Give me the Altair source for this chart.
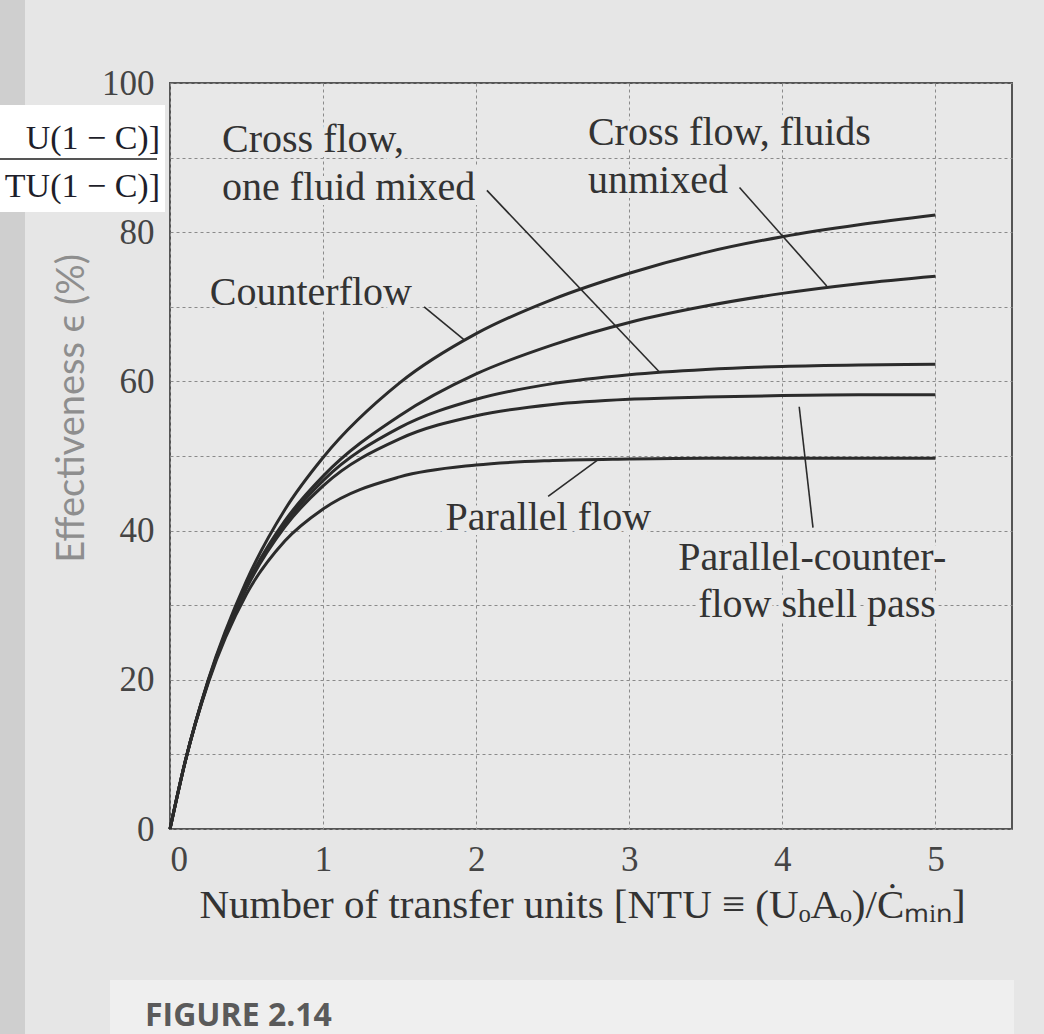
import altair as alt
import pandas as pd

# ---- data (NTU vs effectiveness %) ----
ntu = [0, 0.1, 0.25, 0.5, 0.75, 1.0, 1.5, 2.0, 2.5, 3.0, 3.5, 4.0, 4.5, 5.0]
counterflow   = [0, 9.1, 20.0, 33.3, 42.8, 49.8, 59.8, 66.4, 71.0, 74.5, 77.3, 79.4, 81.0, 82.3]
cross_unmixed = [0, 9.1, 19.9, 32.7, 41.3, 47.3, 55.4, 61.0, 64.9, 67.9, 70.1, 71.8, 73.1, 74.1]
cross_mixed   = [0, 9.1, 19.8, 32.5, 40.9, 46.7, 53.8, 57.6, 59.7, 60.9, 61.6, 62.0, 62.2, 62.3]
shell_pass    = [0, 9.1, 19.8, 32.3, 40.5, 46.0, 52.3, 55.4, 56.9, 57.6, 57.9, 58.1, 58.2, 58.2]
parallel      = [0, 9.1, 19.6, 31.5, 38.6, 42.9, 47.2, 48.8, 49.4, 49.6, 49.7, 49.7, 49.7, 49.7]

series = {
    "Counterflow": counterflow,
    "Cross flow, fluids unmixed": cross_unmixed,
    "Cross flow, one fluid mixed": cross_mixed,
    "Parallel-counterflow shell pass": shell_pass,
    "Parallel flow": parallel,
}

# annotation text (label lines, anchor in data coords)
label_text = ["Cross flow,", "one fluid mixed", "Cross flow, fluids", "unmixed",
              "Counterflow", "Parallel flow", "Parallel-counter-", "flow shell pass"]
label_x = [0.34, 0.34, 2.73, 2.73, 0.26, 1.80, 3.32, 3.45]
label_y = [90.8, 84.3, 91.7, 85.3, 70.2, 40.1, 34.7, 28.4]

# leader lines from labels to curves
lead_x = [2.07, 3.72, 1.66, 2.47, 4.20]
lead_y = [85.6, 86.0, 70.0, 44.6, 40.4]
lead_x2 = [3.20, 4.29, 1.92, 2.79, 4.11]
lead_y2 = [61.2, 72.8, 65.6, 49.4, 56.6]

x_grid = [0, 0.5, 1, 1.5, 2, 2.5, 3, 3.5, 4, 4.5, 5, 5.5]
y_grid = [0, 10, 20, 30, 40, 50, 60, 70, 80, 90, 100]

rows = []
for name, vals in series.items():
    for n, v in zip(ntu, vals):
        rows.append({"curve": name, "ntu": n, "eff": v})
df = pd.DataFrame(rows)

W, H = 842, 746
SERIF = "Liberation Serif"
INK = "#2b2b2b"
PAPER = "#e8e8e8"

xscale = alt.Scale(domain=[0, 5.5], nice=False, zero=False)
yscale = alt.Scale(domain=[0, 100], nice=False)

x_axis = alt.Axis(values=x_grid, grid=True, ticks=False, domain=False, format="d",
                  labelExpr="(datum.value % 1 == 0 && datum.value <= 5) ? datum.label : ''",
                  labelFont=SERIF, labelFontSize=35, labelColor="#444", labelPadding=13,
                  title="Number of transfer units [NTU ≡ (UₒAₒ)/Ċₘᵢₙ]",
                  titleFont=SERIF, titleFontSize=41, titleFontWeight="normal", titleColor="#333",
                  titleX=412, titleY=88, titleBaseline="alphabetic", titleAnchor="middle")
y_axis = alt.Axis(values=y_grid, grid=True, ticks=False, domain=False,
                  labelExpr="datum.value % 20 == 0 ? datum.label : ''",
                  labelFont=SERIF, labelFontSize=35, labelColor="#444", labelPadding=16,
                  title="Effectiveness ϵ (%)", titleFont="Lato", titleFontSize=38,
                  titleFontWeight="normal", titleColor="#8e8e8e",
                  titleX=-98, titleY=325, titleAngle=270, titleBaseline="middle", titleAnchor="middle")

curves = alt.Chart(df).mark_line(color=INK, strokeWidth=3, interpolate="monotone").encode(
    x=alt.X("ntu:Q", scale=xscale, axis=x_axis),
    y=alt.Y("eff:Q", scale=yscale, axis=y_axis),
    detail="curve:N",
)

lead_df = pd.DataFrame({"x": lead_x, "y": lead_y, "x2": lead_x2, "y2": lead_y2})
leaders = alt.Chart(lead_df).mark_rule(color=INK, strokeWidth=1.6).encode(
    x=alt.X("x:Q", scale=xscale), y=alt.Y("y:Q", scale=yscale),
    x2="x2:Q", y2="y2:Q",
)

lab_df = pd.DataFrame({"t": label_text, "x": label_x, "y": label_y})
label_halo = alt.Chart(lab_df).mark_text(align="left", baseline="alphabetic", font=SERIF,
                                         fontSize=40, color=PAPER, stroke=PAPER,
                                         strokeWidth=10).encode(
    x=alt.X("x:Q", scale=xscale), y=alt.Y("y:Q", scale=yscale), text="t:N",
)
labels = alt.Chart(lab_df).mark_text(align="left", baseline="alphabetic", font=SERIF,
                                     fontSize=40, color="#333").encode(
    x=alt.X("x:Q", scale=xscale), y=alt.Y("y:Q", scale=yscale), text="t:N",
)

# page decorations (scanned page context)
deco = pd.DataFrame({"k": [0]})
left_strip = alt.Chart(deco).mark_rect(color="#cfcfcf").encode(
    x=alt.value(-170), x2=alt.value(-145), y=alt.value(-83), y2=alt.value(951))
formula_box = alt.Chart(deco).mark_rect(color="#ffffff").encode(
    x=alt.value(-170), x2=alt.value(-5), y=alt.value(22), y2=alt.value(129))
fig_box = alt.Chart(deco).mark_rect(color="#efefef").encode(
    x=alt.value(-60), x2=alt.value(844), y=alt.value(897), y2=alt.value(960))
frac_line = alt.Chart(deco).mark_rule(color="#555", strokeWidth=2).encode(
    x=alt.value(-170), x2=alt.value(-13), y=alt.value(76))
formula_top = alt.Chart(pd.DataFrame({"t": ["U(1 − C)]"]})).mark_text(
    align="right", baseline="alphabetic", font=SERIF, fontSize=34, color="#1e1e2a").encode(
    x=alt.value(-10), y=alt.value(66), text="t:N")
formula_bot = alt.Chart(pd.DataFrame({"t": ["TU(1 − C)]"]})).mark_text(
    align="right", baseline="alphabetic", font=SERIF, fontSize=34, color="#1e1e2a").encode(
    x=alt.value(-10), y=alt.value(114), text="t:N")
fig_title = alt.Chart(pd.DataFrame({"t": ["FIGURE 2.14"]})).mark_text(
    align="left", baseline="alphabetic", font="Open Sans", fontWeight="bold", fontSize=32,
    color="#5a5a5a").encode(x=alt.value(-25), y=alt.value(943), text="t:N")

chart = alt.layer(
    left_strip, formula_box, fig_box, frac_line, formula_top, formula_bot, fig_title,
    curves, leaders, label_halo, labels,
).properties(
    width=W, height=H,
    padding={"left": 170, "top": 83, "right": 32, "bottom": 205},
    autosize=alt.AutoSizeParams(type="none"),
    background="#e6e6e6",
).configure_view(
    stroke="#555555", strokeWidth=2, fill=PAPER,
).configure_axis(
    gridColor="#8a8a8a", gridDash=[3, 3], gridWidth=1,
)

chart.save("out.html", embed_options={"renderer": "svg", "actions": False})
